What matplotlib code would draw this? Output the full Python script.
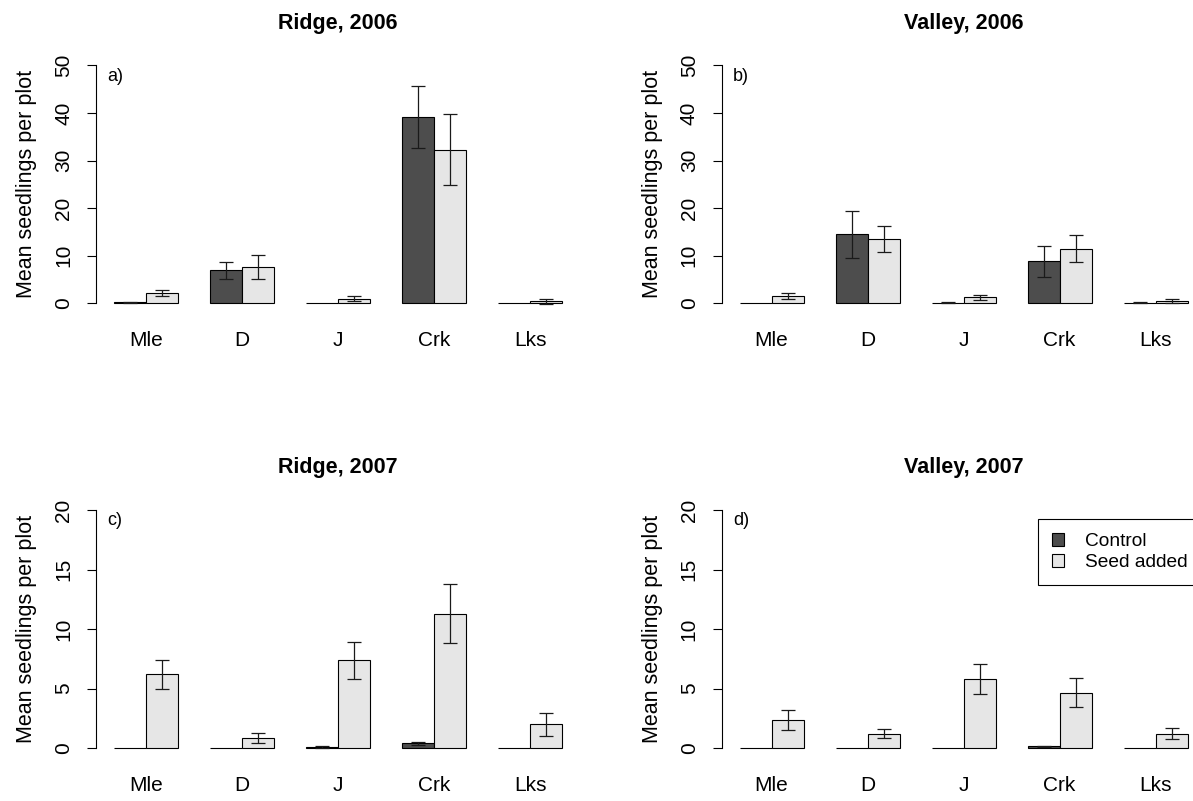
import numpy as np
import matplotlib
matplotlib.use("Agg")
import matplotlib.pyplot as plt
from matplotlib.patches import Patch

plt.rcParams['font.family'] = ['Liberation Sans', 'DejaVu Sans']

species = ['Mle', 'D', 'J', 'Crk', 'Lks']

# Ridge, 2006
ridge06_ctrl = [0.2, 6.9, 0.0, 39.2, 0.0]
ridge06_ctrl_se = [0.15, 1.8, 0.0, 6.5, 0.0]
ridge06_seed = [2.2, 7.6, 1.0, 32.3, 0.45]
ridge06_seed_se = [0.65, 2.6, 0.45, 7.5, 0.5]

# Valley, 2006
valley06_ctrl = [0.0, 14.5, 0.15, 8.8, 0.1]
valley06_ctrl_se = [0.0, 4.95, 0.1, 3.2, 0.1]
valley06_seed = [1.5, 13.5, 1.25, 11.5, 0.55]
valley06_seed_se = [0.6, 2.75, 0.5, 2.85, 0.4]

# Ridge, 2007
ridge07_ctrl = [0.0, 0.0, 0.1, 0.42, 0.0]
ridge07_ctrl_se = [0.0, 0.0, 0.05, 0.12, 0.0]
ridge07_seed = [6.2, 0.9, 7.4, 11.3, 2.0]
ridge07_seed_se = [1.23, 0.42, 1.55, 2.5, 0.93]

# Valley, 2007
valley07_ctrl = [0.0, 0.0, 0.0, 0.17, 0.0]
valley07_ctrl_se = [0.0, 0.0, 0.0, 0.06, 0.0]
valley07_seed = [2.35, 1.23, 5.8, 4.65, 1.23]
valley07_seed_se = [0.83, 0.38, 1.23, 1.22, 0.46]

titles = ['Ridge, 2006', 'Valley, 2006', 'Ridge, 2007', 'Valley, 2007']
letters = ['a)', 'b)', 'c)', 'd)']
ymax = [50, 50, 20, 20]
yticks = [[0, 10, 20, 30, 40, 50], [0, 10, 20, 30, 40, 50],
          [0, 5, 10, 15, 20], [0, 5, 10, 15, 20]]

panels = [
    (ridge06_ctrl, ridge06_ctrl_se, ridge06_seed, ridge06_seed_se),
    (valley06_ctrl, valley06_ctrl_se, valley06_seed, valley06_seed_se),
    (ridge07_ctrl, ridge07_ctrl_se, ridge07_seed, ridge07_seed_se),
    (valley07_ctrl, valley07_ctrl_se, valley07_seed, valley07_seed_se),
]

CTRL_COL = '#4d4d4d'
SEED_COL = '#e6e6e6'
ERR_COL = '#1a1a1a'

W, H = 1193, 801
fig = plt.figure(figsize=(W / 100, H / 100), dpi=100)

# axes boxes in pixels: left, top, right, bottom
boxes = [(96, 55.8, 580, 312.8), (721.7, 55.8, 1205.5, 312.8),
         (96, 500.4, 580, 757.8), (721.7, 500.4, 1205.5, 757.8)]

grp = np.arange(len(species)) * 3 + 2.0

for k, (ctrl, ctrl_se, seed, seed_se) in enumerate(panels):
    l, t, r, b = boxes[k]
    ax = fig.add_axes([l / W, 1 - b / H, (r - l) / W, (b - t) / H])

    ax.bar(grp - 0.5, ctrl, width=1.0, color=CTRL_COL, edgecolor='black', linewidth=0.8)
    ax.bar(grp + 0.5, seed, width=1.0, color=SEED_COL, edgecolor='black', linewidth=0.8)

    for xs, ys, es in ((grp - 0.5, ctrl, ctrl_se), (grp + 0.5, seed, seed_se)):
        ys = np.array(ys)
        es = np.array(es)
        m = es > 0
        ax.errorbar(xs[m], ys[m], yerr=es[m], fmt='none', ecolor=ERR_COL,
                    elinewidth=0.9, capsize=5, capthick=0.9)

    top = ymax[k]
    ax.set_xlim(0.44, 15.56)
    ax.set_ylim(-0.04 * top, 1.04 * top)

    for s in ('top', 'right', 'bottom'):
        ax.spines[s].set_visible(False)
    ax.spines['left'].set_bounds(0, top)
    ax.spines['left'].set_linewidth(0.8)

    ax.set_yticks(yticks[k])
    ax.tick_params(axis='y', length=6.5, width=0.8, pad=10, labelsize=15,
                   labelrotation=90)
    for lab in ax.get_yticklabels():
        lab.set_va('center')

    ax.set_xticks(grp, species)
    ax.tick_params(axis='x', length=0, pad=13, labelsize=15)

    ax.set_ylabel('Mean seedlings per plot', fontsize=15.5)
    ax.yaxis.set_label_coords(-0.121, 0.5)

    ax.set_title(titles[k], fontsize=15.5, fontweight='bold', pad=19.5)
    ax.text(0.023, 0.92, letters[k], transform=ax.transAxes, fontsize=13,
            ha='left', va='center')

handles = [Patch(facecolor=CTRL_COL, edgecolor='black', linewidth=0.8, label='Control'),
           Patch(facecolor=SEED_COL, edgecolor='black', linewidth=0.8, label='Seed added')]
leg = fig.legend(handles=handles, loc='upper left',
                 bbox_to_anchor=(1038 / W, 0.25, 0.2, 1 - 519 / H - 0.25),
                 bbox_transform=fig.transFigure, mode='expand', borderaxespad=0,
                 fontsize=13.8, handlelength=0.63, handleheight=0.63,
                 handletextpad=1.1, labelspacing=0.21, borderpad=0.73,
                 fancybox=False, framealpha=1, edgecolor='black')
leg.get_frame().set_linewidth(0.8)

fig.savefig('out.png', dpi=100)
